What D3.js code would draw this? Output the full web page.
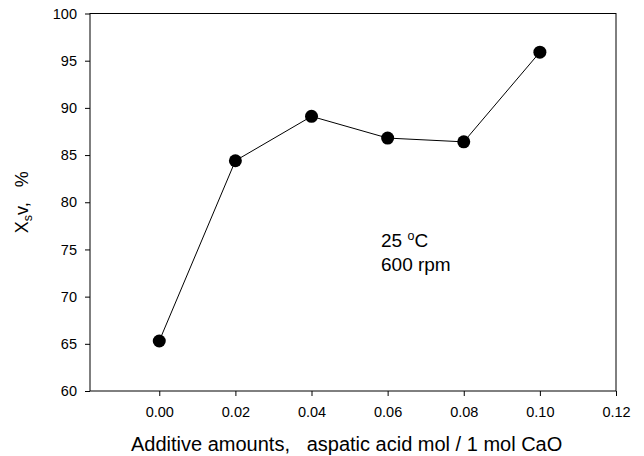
<!DOCTYPE html>
<html>
<head>
<meta charset="utf-8">
<script src="https://cdn.jsdelivr.net/npm/d3@7"></script>
<style>
  body { margin: 0; background: #fff; }
  text { font-family: "Liberation Sans", Arial, sans-serif; fill: #000; }
</style>
</head>
<body>
<script>
// additive amount (mol per mol CaO) and conversion Xsv (%)
var amounts = [0.00, 0.02, 0.04, 0.06, 0.08, 0.10];
var xsv = [65.3, 84.4, 89.1, 86.8, 86.4, 95.9];
var xTicks = [0.00, 0.02, 0.04, 0.06, 0.08, 0.10, 0.12];
var yTicks = [60, 65, 70, 75, 80, 85, 90, 95, 100];

var w = 644, h = 456;
var margin = {top: 13.5, right: 28, bottom: 65, left: 90};
var width = w - margin.left - margin.right,
    height = h - margin.top - margin.bottom;

var svg = d3.select("body").append("svg")
    .attr("width", w)
    .attr("height", h);
var g = svg.append("g")
    .attr("transform", "translate(" + margin.left + "," + margin.top + ")");

var x = d3.scaleLinear().domain([-0.0182, 0.12]).range([0, width]);
var y = d3.scaleLinear().domain([60, 100]).range([height, 0]);

// frame
g.append("rect")
  .attr("width", width).attr("height", height)
  .attr("fill", "none").attr("stroke", "#000").attr("stroke-width", 1);

var xAxis = g.append("g")
  .attr("transform", "translate(0," + height + ")")
  .call(d3.axisBottom(x).tickValues(xTicks).tickFormat(d3.format(".2f")).tickSize(5).tickPadding(11));
var yAxis = g.append("g")
  .call(d3.axisLeft(y).tickValues(yTicks).tickSize(5).tickPadding(8));

[xAxis, yAxis].forEach(function(a) {
  a.select(".domain").remove();
  a.selectAll("text").style("font-size", "14.5px").style("font-family", "Liberation Sans, Arial, sans-serif");
});

// line
var line = d3.line()
  .x(function(d, i) { return x(amounts[i]); })
  .y(function(d) { return y(d); });
g.append("path")
  .datum(xsv)
  .attr("d", line)
  .attr("fill", "none")
  .attr("stroke", "#000")
  .attr("stroke-width", 1);

g.selectAll(".dot")
  .data(xsv)
  .enter().append("circle")
  .attr("cx", function(d, i) { return x(amounts[i]); })
  .attr("cy", function(d) { return y(d); })
  .attr("r", 6.5)
  .attr("fill", "#000");

// axis titles
svg.append("text")
  .attr("x", 131)
  .attr("y", 451)
  .style("font-size", "20px")
  .style("white-space", "pre")
  .text("Additive amounts,   aspatic acid mol / 1 mol CaO");

var yt = svg.append("text")
  .attr("transform", "translate(28," + (margin.top + height / 2) + ") rotate(-90)")
  .attr("text-anchor", "middle")
  .style("font-size", "18px")
  .style("white-space", "pre");
yt.append("tspan").text("X");
yt.append("tspan").attr("dy", 4).style("font-size", "12.5px").text("s");
yt.append("tspan").attr("dy", -4).text("v,   %");

// annotation
var t1 = svg.append("text").attr("x", 381).attr("y", 247).style("font-size", "19px");
t1.append("tspan").text("25 ");
t1.append("tspan").attr("dy", -7).style("font-size", "12.5px").text("o");
t1.append("tspan").attr("dy", 7).text("C");
svg.append("text").attr("x", 381).attr("y", 271).style("font-size", "19px").text("600 rpm");
</script>
</body>
</html>
